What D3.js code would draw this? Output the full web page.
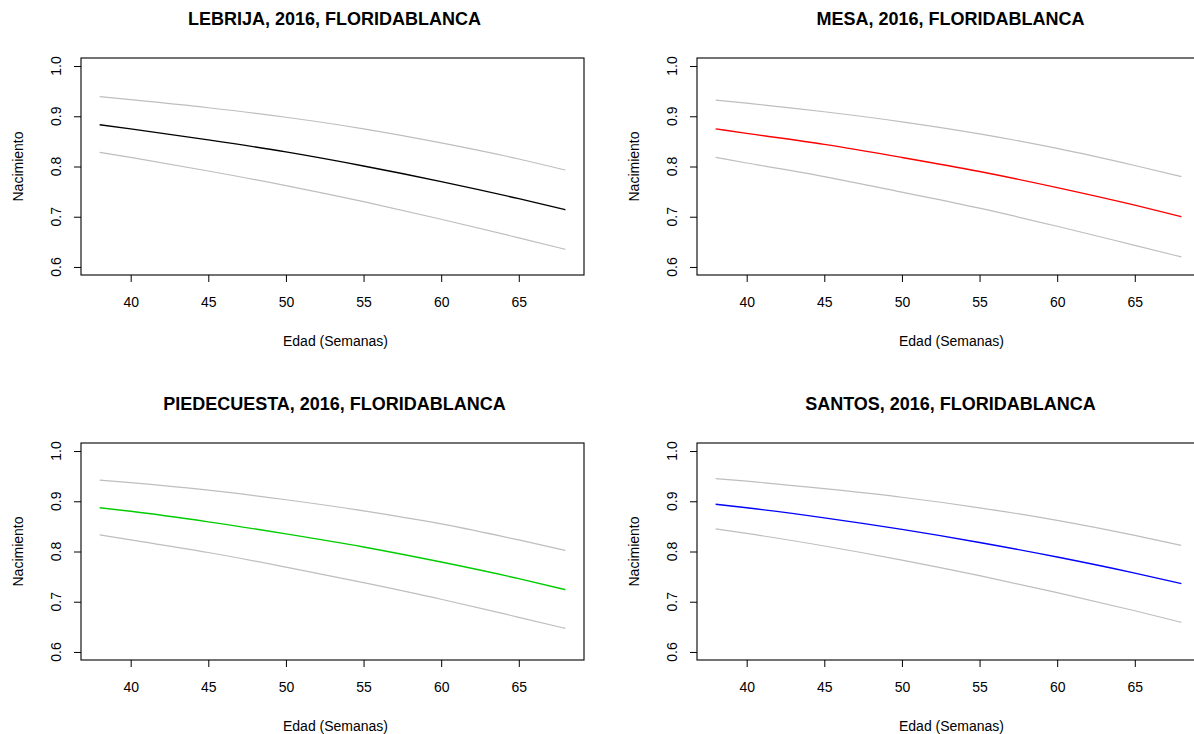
<!DOCTYPE html>
<html lang="es">
<head>
    <meta charset="UTF-8">
    <title>Nacimiento por edad</title>
    <style>
        body {
            margin: 0;
            background: #fff;
        }

        svg {
            display: block;
            font-family: "Liberation Sans", Arial, Helvetica, sans-serif;
        }

        .axis path {
            display: none;
        }

        .axis line {
            stroke: #000;
        }

        .title {
            font-size: 18px;
            font-weight: bold;
        }

        .lab, .tick text {
            font-size: 14px;
            fill: #000;
        }
    </style>
    <script src="https://cdn.jsdelivr.net/npm/d3@7"></script>
</head>
<body>
<svg class="chart"></svg>
<script>
    // semanas donde se leyeron los valores
    const weeks = [38, 40, 45, 50, 55, 60, 65, 68];
    const xTicks = [40, 45, 50, 55, 60, 65];
    const yTicks = [0.6, 0.7, 0.8, 0.9, 1.0];

    const titles = [
        'LEBRIJA, 2016, FLORIDABLANCA',
        'MESA, 2016, FLORIDABLANCA',
        'PIEDECUESTA, 2016, FLORIDABLANCA',
        'SANTOS, 2016, FLORIDABLANCA'
    ];
    const colors = ['#000000', '#ff0000', '#00cd00', '#0000ff'];

    const lebrijaMean = [0.883, 0.875, 0.853, 0.829, 0.801, 0.770, 0.736, 0.714];
    const lebrijaUpper = [0.939, 0.933, 0.917, 0.898, 0.875, 0.847, 0.815, 0.793];
    const lebrijaLower = [0.828, 0.818, 0.791, 0.762, 0.730, 0.695, 0.658, 0.635];

    const mesaMean = [0.875, 0.866, 0.844, 0.818, 0.790, 0.758, 0.723, 0.700];
    const mesaUpper = [0.932, 0.926, 0.909, 0.889, 0.865, 0.836, 0.802, 0.780];
    const mesaLower = [0.818, 0.807, 0.780, 0.749, 0.717, 0.681, 0.643, 0.620];

    const piedeMean = [0.887, 0.880, 0.859, 0.835, 0.809, 0.779, 0.746, 0.724];
    const piedeUpper = [0.942, 0.937, 0.922, 0.903, 0.881, 0.855, 0.823, 0.802];
    const piedeLower = [0.833, 0.823, 0.798, 0.769, 0.738, 0.705, 0.669, 0.647];

    const santosMean = [0.894, 0.887, 0.867, 0.844, 0.818, 0.789, 0.757, 0.736];
    const santosUpper = [0.945, 0.940, 0.925, 0.908, 0.887, 0.862, 0.832, 0.812];
    const santosLower = [0.845, 0.836, 0.811, 0.783, 0.752, 0.718, 0.682, 0.659];

    const series = [
        [lebrijaMean, lebrijaUpper, lebrijaLower],
        [mesaMean, mesaUpper, mesaLower],
        [piedeMean, piedeUpper, piedeLower],
        [santosMean, santosUpper, santosLower]
    ];

    const width = 1194,
        height = 734,
        plotW = 503,
        plotH = 217,
        origins = [[81, 58], [697, 58], [81, 443], [697, 443]];

    const svg = d3.select('.chart')
        .attr('width', width)
        .attr('height', height);

    // R extiende el rango un 4% a cada lado
    let x = d3.scaleLinear().domain([38 - 1.2, 68 + 1.2]).range([0, plotW]),
        y = d3.scaleLinear().domain([0.6 - 0.016, 1.0 + 0.016]).range([plotH, 0]);

    let line = d3.line()
        .x(d => x(d[0]))
        .y(d => y(d[1]))
        .curve(d3.curveMonotoneX);

    titles.forEach((t, i) => {
        let g = svg.append('g')
            .attr('transform', 'translate(' + origins[i][0] + ',' + origins[i][1] + ')');

        // bandas grises primero, luego la media
        [1, 2, 0].forEach(k => {
            g.append('path')
                .datum(weeks.map((w, j) => [w, series[i][k][j]]))
                .attr('d', line)
                .attr('fill', 'none')
                .attr('stroke', k === 0 ? colors[i] : '#bebebe')
                .attr('stroke-width', k === 0 ? 1.4 : 1.2);
        });

        g.append('rect')
            .attr('width', plotW)
            .attr('height', plotH)
            .attr('fill', 'none')
            .attr('stroke', '#000')
            .attr('stroke-width', 1.1);

        // eje x
        g.append('g')
            .attr('class', 'axis')
            .attr('transform', 'translate(0,' + plotH + ')')
            .call(d3.axisBottom(x).tickValues(xTicks).tickSize(7).tickPadding(15));

        // eje y con etiquetas giradas
        g.append('g')
            .attr('class', 'axis')
            .call(d3.axisLeft(y).tickValues(yTicks).tickSize(7).tickFormat(''));

        g.selectAll('.ylab')
            .data(yTicks).enter().append('text')
            .attr('class', 'lab')
            .attr('text-anchor', 'middle')
            .attr('transform', d => 'translate(-20.5,' + y(d) + ') rotate(-90)')
            .text(d3.format('.1f'));

        g.append('text')
            .attr('class', 'title')
            .attr('text-anchor', 'middle')
            .attr('x', plotW / 2 + 2)
            .attr('y', -33)
            .text(t);

        g.append('text')
            .attr('class', 'lab')
            .attr('text-anchor', 'middle')
            .attr('x', plotW / 2 + 3)
            .attr('y', plotH + 71)
            .text('Edad (Semanas)');

        g.append('text')
            .attr('class', 'lab')
            .attr('text-anchor', 'middle')
            .attr('transform', 'translate(-58,' + (plotH / 2) + ') rotate(-90)')
            .text('Nacimiento');
    });
</script>
</body>
</html>
